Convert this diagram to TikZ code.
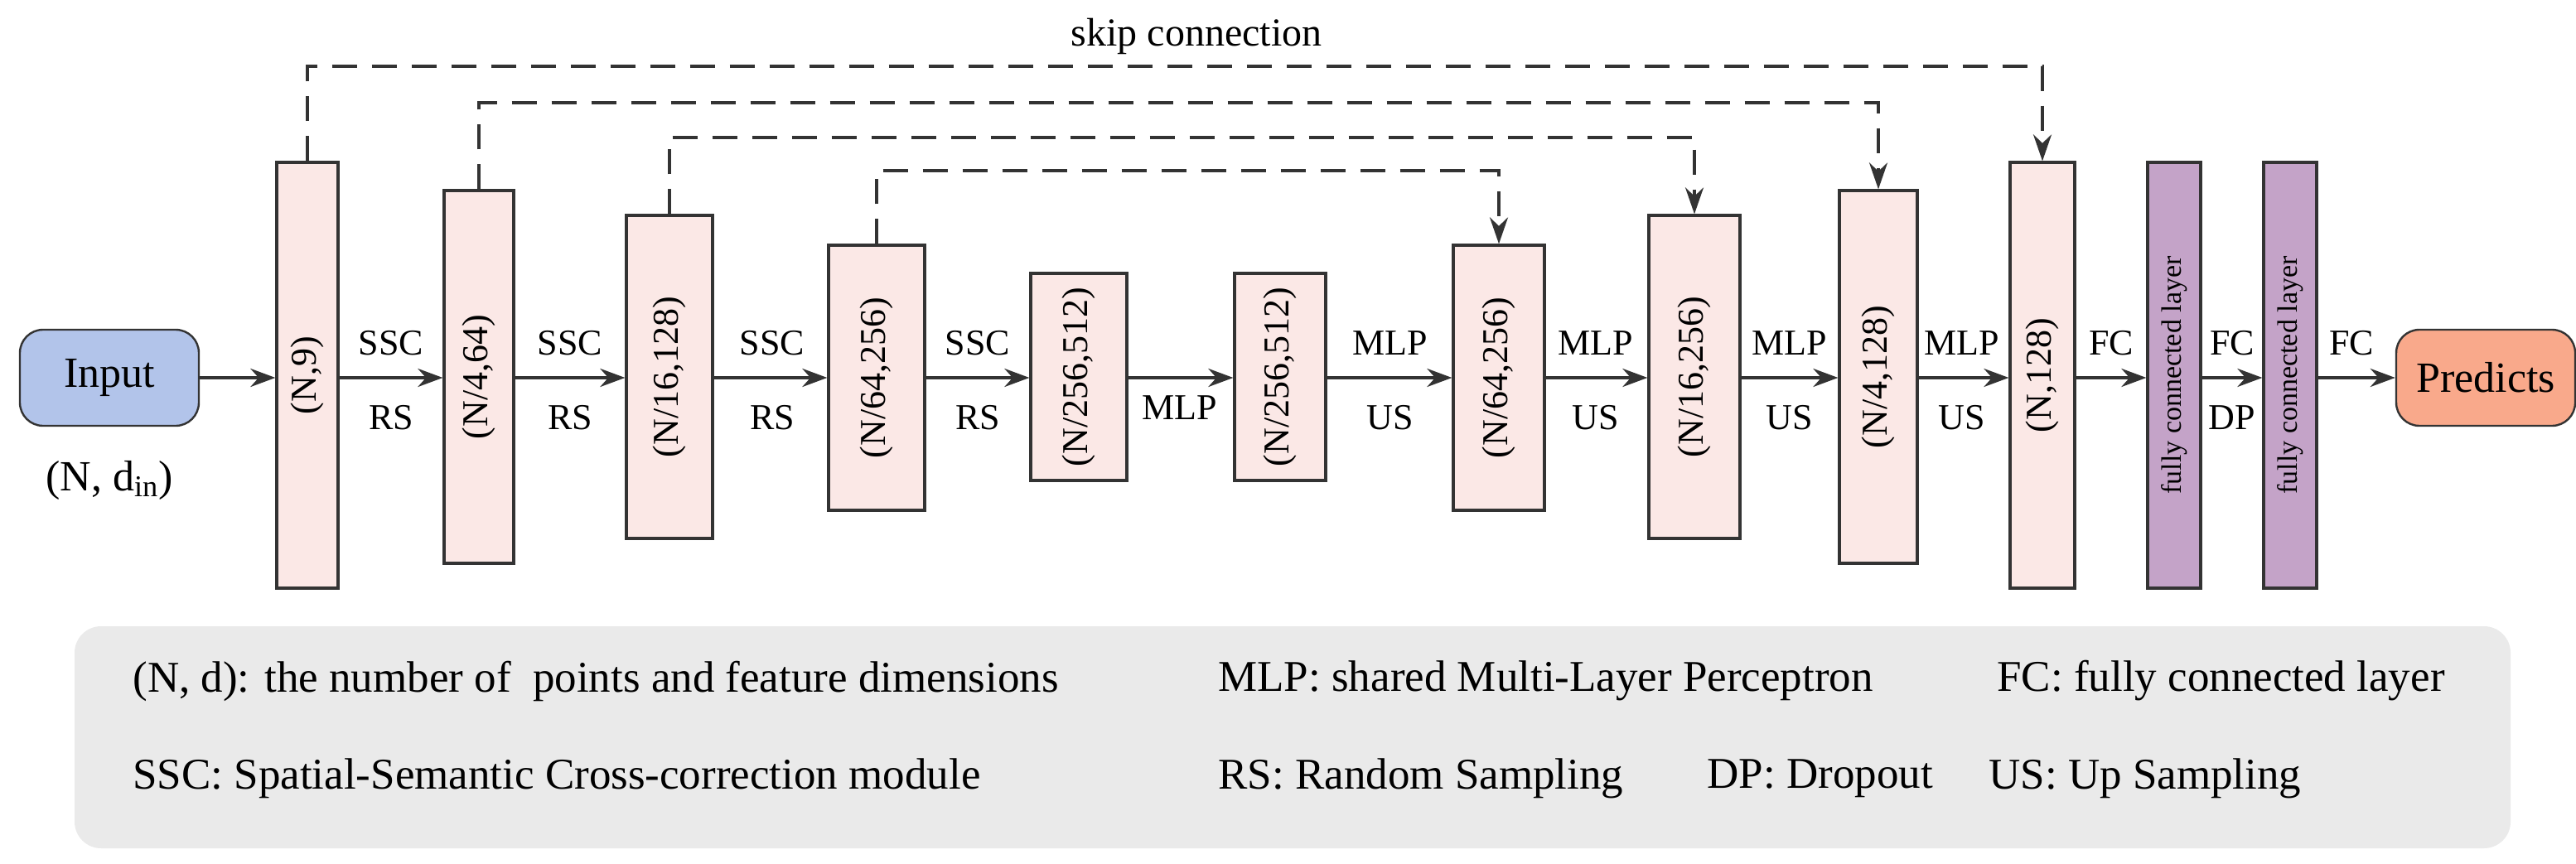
\documentclass[tikz,border=0pt]{standalone}
\usepackage{fontspec}
\setmainfont{Liberation Serif}
\usetikzlibrary{arrows.meta,calc}
\definecolor{ln}{HTML}{333333}
\definecolor{pinkb}{HTML}{FBE8E6}
\definecolor{purp}{HTML}{C4A3C8}
\definecolor{inb}{HTML}{B2C4EA}
\definecolor{outb}{HTML}{F9A98B}
\definecolor{leg}{HTML}{EAEAEA}
\begin{document}
\begin{tikzpicture}[x=1pt,y=-1pt,
  box/.style={draw=ln,line width=1.6pt,fill=pinkb,minimum width=#1,inner sep=0pt,font=\fontsize{22}{24}\selectfont},
  fcb/.style={draw=ln,line width=1.6pt,fill=purp,minimum width=32pt,minimum height=257pt,inner sep=0pt,font=\fontsize{17}{19}\selectfont},
  term/.style={draw=ln,line width=1.2pt,rounded corners=14pt,minimum width=108pt,minimum height=58pt,font=\fontsize{26}{28}\selectfont},
  arr/.style={draw=ln,line width=2pt,-{Stealth[length=15pt,width=11pt]}},
  skip/.style={draw=ln,line width=1.8pt,dash pattern=on 15pt off 9pt,-{Stealth[length=16pt,width=11pt]}},
  lab/.style={font=\fontsize{22}{24}\selectfont,inner sep=1pt},
  lg/.style={font=\fontsize{26.5}{29}\selectfont,anchor=west,inner sep=0pt}]
\useasboundingbox (0,0) rectangle (1554.5,521.5);
\node[term,fill=inb] (in) at (66,228) {Input};
\node[font=\fontsize{26}{28}\selectfont] (nd) at (66,290) {(N, d$_{\mathrm{in}}$)};
\node[term,fill=outb] (out) at (1500,228) {Predicts};
\node[box=37pt,minimum height=257pt] (b1) at (185.5,226.5) {\rotatebox{90}{(N,9)}};
\node[box=42pt,minimum height=225pt] (b2) at (289,227.5) {\rotatebox{90}{(N/4,64)}};
\node[box=52pt,minimum height=195pt] (b3) at (404,227.5) {\rotatebox{90}{(N/16,128)}};
\node[box=58pt,minimum height=160pt] (b4) at (529,228) {\rotatebox{90}{(N/64,256)}};
\node[box=58pt,minimum height=125pt] (b5) at (651,227.5) {\rotatebox{90}{(N/256,512)}};
\node[box=55pt,minimum height=125pt] (b6) at (772.5,227.5) {\rotatebox{90}{(N/256,512)}};
\node[box=55pt,minimum height=160pt] (b7) at (904.5,228) {\rotatebox{90}{(N/64,256)}};
\node[box=55pt,minimum height=195pt] (b8) at (1022.5,227.5) {\rotatebox{90}{(N/16,256)}};
\node[box=47pt,minimum height=225pt] (b9) at (1133.5,227.5) {\rotatebox{90}{(N/4,128)}};
\node[box=39pt,minimum height=257pt] (b10) at (1232.5,226.5) {\rotatebox{90}{(N,128)}};
\node[fcb] (f1) at (1312,226.5) {\rotatebox{90}{fully connected layer}};
\node[fcb] (f2) at (1382,226.5) {\rotatebox{90}{fully connected layer}};
\foreach \a/\b in {in/b1,b1/b2,b2/b3,b3/b4,b4/b5,b5/b6,b6/b7,b7/b8,b8/b9,b9/b10,b10/f1,f1/f2,f2/out}
  \draw[arr] (\a.east|-0,228) -- (\b.west|-0,228);
\foreach \x/\t/\u in {236/SSC/RS,344/SSC/RS,466/SSC/RS,590/SSC/RS,839/MLP/US,963/MLP/US,1080/MLP/US,1184/MLP/US}{
  \node[lab] (t\x) at (\x,207) {\t};
  \node[lab] (u\x) at (\x,252) {\u};}
\node[lab] (mlp) at (712,246) {MLP};
\node[lab] (fc1) at (1274,207) {FC};
\node[lab] (fc2) at (1347,207) {FC};
\node[lab] (dp) at (1347,252) {DP};
\node[lab] (fc3) at (1419,207) {FC};
\draw[skip] (b1.north) -- (b1.north|-0,40) -| (b10.north);
\draw[skip] (b2.north) -- (b2.north|-0,62) -| (b9.north);
\draw[skip] (b3.north) -- (b3.north|-0,83) -| (b8.north);
\draw[skip] (b4.north) -- (b4.north|-0,103) -| (b7.north);
\node[font=\fontsize{24}{26}\selectfont] (sk) at (722,22) {skip connection};
\node[draw=none,fill=leg,rounded corners=16pt,minimum width=1470pt,minimum height=134pt] (lgbox) at (780,445) {};
\node[lg] (l1) at (80,411) {(N, d): the number of \ points and feature dimensions};
\node[lg] (l2) at (735,411) {MLP: shared Multi-Layer Perceptron};
\node[lg] (l3) at (1205,411) {FC: fully connected layer};
\node[lg] (l4) at (80,470) {SSC: Spatial-Semantic Cross-correction module};
\node[lg] (l5) at (735,470) {RS: Random Sampling};
\node[lg] (l6) at (1030,470) {DP: Dropout};
\node[lg] (l7) at (1200,470) {US: Up Sampling};
\end{tikzpicture}
\end{document}
